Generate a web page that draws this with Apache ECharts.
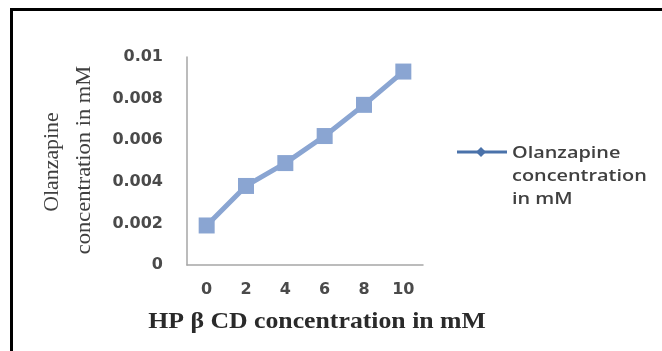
<!DOCTYPE html>
<html>
<head>
<meta charset="utf-8">
<script src="https://cdn.jsdelivr.net/npm/echarts@6/dist/echarts.min.js"></script>
<style>
  html, body { margin: 0; padding: 0; background: #ffffff; }
  #chart { width: 662px; height: 351px; }
</style>
</head>
<body>
<div id="chart"></div>
<script>
// HP-β-CD concentration (mM) on the category axis
const categories = ['0', '2', '4', '6', '8', '10'];
// Olanzapine concentration (mM) measured at each HP-β-CD level
const olanzapine = [0.0019, 0.0038, 0.0049, 0.0062, 0.0077, 0.0093];
const seriesName = 'Olanzapine concentration in mM';
const legendLines = ['Olanzapine', 'concentration', 'in mM'];
const yTitleLines = ['Olanzapine', 'concentration in mM'];
const xTitle = 'HP β CD concentration in mM';

const chart = echarts.init(document.getElementById('chart'), null, { renderer: 'canvas' });

const tickFont = { fontFamily: '"DejaVu Sans", sans-serif', fontSize: 16, fontWeight: 'bold', color: '#4a4a4a' };
const serif = '"Liberation Serif", serif';

chart.setOption({
  animation: false,
  backgroundColor: '#ffffff',
  grid: { left: 187, right: 239, top: 57, bottom: 86, containLabel: false },
  xAxis: {
    type: 'category',
    data: categories,
    boundaryGap: true,
    axisLine: { show: true, lineStyle: { color: '#a6a6a6', width: 1.5 } },
    axisTick: { show: false },
    axisLabel: Object.assign({ margin: 17 }, tickFont),
    splitLine: { show: false }
  },
  yAxis: {
    type: 'value',
    min: 0,
    max: 0.01,
    interval: 0.002,
    axisLine: { show: true, lineStyle: { color: '#a6a6a6', width: 1.5 } },
    axisTick: { show: false },
    axisLabel: Object.assign({ margin: 24 }, tickFont),
    splitLine: { show: false }
  },
  series: [{
    name: seriesName,
    type: 'line',
    data: olanzapine,
    symbol: 'rect',
    symbolSize: 16,
    lineStyle: { color: '#8aa5d2', width: 5 },
    itemStyle: { color: '#8aa5d2' }
  }],
  graphic: [
    // page frame (top and left edges)
    { type: 'line', shape: { x1: 10, y1: 9.5, x2: 662, y2: 9.5 }, style: { stroke: '#000', lineWidth: 3 } },
    { type: 'line', shape: { x1: 11.5, y1: 8, x2: 11.5, y2: 351 }, style: { stroke: '#000', lineWidth: 3 } },
    // y axis title (two rotated lines, slightly stretched along the text)
    {
      type: 'text', x: 52, y: 162, rotation: Math.PI / 2, scaleX: 1.04,
      style: { text: yTitleLines[0], font: '21px ' + serif, fill: '#404040', align: 'center', verticalAlign: 'middle' }
    },
    {
      type: 'text', x: 84, y: 160, rotation: Math.PI / 2, scaleX: 1.07,
      style: { text: yTitleLines[1], font: '21px ' + serif, fill: '#404040', align: 'center', verticalAlign: 'middle' }
    },
    // x axis title
    {
      type: 'text', x: 317, y: 322, scaleX: 1.12,
      style: { text: xTitle, font: 'bold 23px ' + serif, fill: '#2a2a2a', align: 'center', verticalAlign: 'middle' }
    },
    // legend entry
    { type: 'line', shape: { x1: 457, y1: 152, x2: 507, y2: 152 }, style: { stroke: '#4a72aa', lineWidth: 3 } },
    { type: 'polygon', shape: { points: [[481, 147], [486, 152], [481, 157], [476, 152]] }, style: { fill: '#4a72aa' } },
    {
      type: 'text', x: 512, y: 153, scaleX: 1.17,
      style: { text: legendLines.join('\n'), font: '600 17px "Open Sans", sans-serif', fill: '#404040', align: 'left', verticalAlign: 'top', lineHeight: 23, y: -11.5 }
    }
  ]
});
</script>
</body>
</html>
